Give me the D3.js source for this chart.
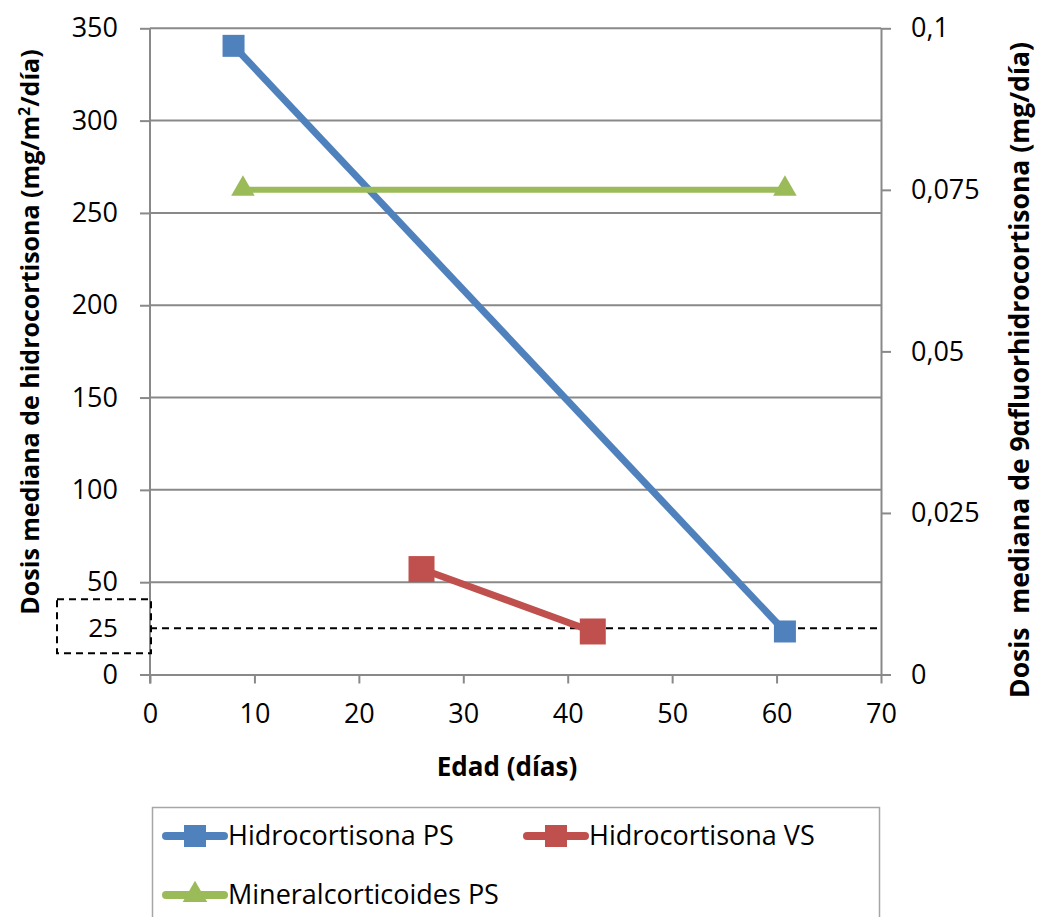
<!DOCTYPE html>
<html>
<head>
<meta charset="utf-8">
<script src="https://cdn.jsdelivr.net/npm/d3@7"></script>
<style>
  html, body { margin: 0; padding: 0; background: #fff; }
  svg { display: block; font-family: "Open Sans", "Noto Sans", sans-serif; }
</style>
</head>
<body>
<svg id="chart" width="1038" height="917"></svg>
<script>
// Age (days) on x, hydrocortisone dose on left axis, fludrocortisone on right axis
const xTicks = [0, 10, 20, 30, 40, 50, 60, 70];
const leftTicks = [0, 50, 100, 150, 200, 250, 300, 350];
const rightTicks = [0, 0.025, 0.05, 0.075, 0.1];
const rightTickLabels = ["0", "0,025", "0,05", "0,075", "0,1"];

const seriesNames = ["Hidrocortisona PS", "Hidrocortisona VS", "Mineralcorticoides PS"];
const seriesColors = ["#4F81BD", "#C0504D", "#9BBB59"];

const hcPSAge = [8, 60.8];
const hcPSDose = [340.5, 23.3];
const hcVSAge = [26, 42.4];
const hcVSDose = [57.1, 23.3];
const minPSAge = [8.9, 60.8];
const minPSDose = [0.075, 0.075];

const refValue = 25;
const refLabel = "25";

const svg = d3.select("#chart");

const x = d3.scaleLinear().domain([0, 70]).range([150, 881]);
const yL = d3.scaleLinear().domain([0, 350]).range([674.5, 28.3]);
const yR = d3.scaleLinear().domain([0, 0.1]).range([674.5, 28.3]);

const gridColor = "#898989";

// horizontal gridlines (left axis)
svg.append("g")
  .selectAll("line")
  .data(leftTicks.filter(d => d > 0))
  .join("line")
  .attr("x1", x(0)).attr("x2", x(70))
  .attr("y1", d => yL(d)).attr("y2", d => yL(d))
  .attr("stroke", gridColor).attr("stroke-width", 2);

// left axis
const gLeft = svg.append("g").attr("transform", `translate(${x(0)},0)`)
  .call(d3.axisLeft(yL).tickValues(leftTicks).tickSize(10).tickPadding(22).tickSizeOuter(0));
// bottom axis
const gBottom = svg.append("g").attr("transform", `translate(0,${yL(0)})`)
  .call(d3.axisBottom(x).tickValues(xTicks).tickSize(9).tickPadding(20).tickSizeOuter(0));
// right axis
const gRight = svg.append("g").attr("transform", `translate(${x(70)},0)`)
  .call(d3.axisRight(yR).tickValues(rightTicks).tickFormat((d, i) => rightTickLabels[i])
    .tickSize(10).tickPadding(20).tickSizeOuter(0));

[gLeft, gBottom, gRight].forEach(g => {
  g.select(".domain").attr("stroke", gridColor).attr("stroke-width", 2);
  g.selectAll(".tick line").attr("stroke", gridColor).attr("stroke-width", 2);
  g.selectAll(".tick text").attr("fill", "#000").style("font-size", "27px")
    .style("font-family", "'Open Sans', sans-serif");
});
gLeft.select(".domain").attr("d", `M0,${yL(350)}V${yL(0) + 9}`);
gBottom.selectAll(".tick text").attr("dy", "0.71em");

// reference line at 25 with boxed label
svg.append("line")
  .attr("x1", x(0)).attr("x2", x(70))
  .attr("y1", yL(refValue)).attr("y2", yL(refValue))
  .attr("stroke", "#000").attr("stroke-width", 2).attr("stroke-dasharray", "7,5");
svg.append("rect")
  .attr("x", 57).attr("y", yL(refValue) - 29)
  .attr("width", x(0) + 1 - 57).attr("height", 54)
  .attr("fill", "none").attr("stroke", "#000").attr("stroke-width", 2)
  .attr("stroke-dasharray", "7,5");
svg.append("text")
  .attr("x", 103).attr("y", yL(refValue)).attr("dy", "0.35em")
  .attr("text-anchor", "middle").style("font-size", "26px").text(refLabel);

// series lines
const lineL = d3.line().x(d => x(d[0])).y(d => yL(d[1]));
const lineR = d3.line().x(d => x(d[0])).y(d => yR(d[1]));

const hcPS = hcPSAge.map((a, i) => [a, hcPSDose[i]]);
const hcVS = hcVSAge.map((a, i) => [a, hcVSDose[i]]);
const minPS = minPSAge.map((a, i) => [a, minPSDose[i]]);

svg.append("path").attr("d", lineL(hcPS)).attr("fill", "none")
  .attr("stroke", seriesColors[0]).attr("stroke-width", 7);
svg.append("path").attr("d", lineL(hcVS)).attr("fill", "none")
  .attr("stroke", seriesColors[1]).attr("stroke-width", 7);
svg.append("path").attr("d", lineR(minPS)).attr("fill", "none")
  .attr("stroke", seriesColors[2]).attr("stroke-width", 6);

// markers
const sq = d3.symbol().type(d3.symbolSquare);
const tri = d3.symbol().type(d3.symbolTriangle);
svg.append("g").selectAll("path").data(hcPS).join("path")
  .attr("transform", d => `translate(${x(d[0])},${yL(d[1])})`)
  .attr("d", sq.size(22 * 22)()).attr("fill", seriesColors[0]);
svg.append("g").selectAll("path").data(hcVS).join("path")
  .attr("transform", d => `translate(${x(d[0])},${yL(d[1])})`)
  .attr("d", sq.size(26 * 26)()).attr("fill", seriesColors[1]);
svg.append("g").selectAll("path").data(minPS).join("path")
  .attr("transform", d => `translate(${x(d[0])},${yR(d[1]) - 1})`)
  .attr("d", tri.size(240)()).attr("fill", seriesColors[2]);

// axis titles
svg.append("text")
  .attr("transform", "translate(39,332) rotate(-90)")
  .attr("text-anchor", "middle").style("font-size", "25px").style("font-weight", "bold")
  .html('Dosis mediana de hidrocortisona (mg/m<tspan dy="-9" font-size="16">2</tspan><tspan dy="9">/día)</tspan>');
svg.append("text")
  .attr("transform", "translate(1029,370) rotate(-90)")
  .attr("text-anchor", "middle").style("font-size", "26.5px").style("font-weight", "bold")
  .attr("xml:space", "preserve")
  .text("Dosis\u00a0 mediana de 9αfluorhidrocortisona (mg/día)");
svg.append("text")
  .attr("x", 507).attr("y", 776)
  .attr("text-anchor", "middle").style("font-size", "26px").style("font-weight", "bold")
  .text("Edad (días)");

// legend
svg.append("rect")
  .attr("x", 152.5).attr("y", 807.5).attr("width", 727).attr("height", 130)
  .attr("fill", "#fff").attr("stroke", "#a6a6a6").attr("stroke-width", 1.5);

const legendItems = [
  { name: seriesNames[0], color: seriesColors[0], shape: "square", lx: 166, cy: 836 },
  { name: seriesNames[1], color: seriesColors[1], shape: "square", lx: 527, cy: 836 },
  { name: seriesNames[2], color: seriesColors[2], shape: "triangle", lx: 166, cy: 895 }
];
const lg = svg.append("g").selectAll("g").data(legendItems).join("g")
  .attr("transform", d => `translate(${d.lx},${d.cy})`);
lg.append("line").attr("x1", 0).attr("x2", 58).attr("y1", 0).attr("y2", 0)
  .attr("stroke", d => d.color).attr("stroke-width", 8).attr("stroke-linecap", "round");
lg.append("path")
  .attr("transform", "translate(29,0)")
  .attr("d", d => d.shape === "square" ? sq.size(22 * 22)() : tri.size(260)())
  .attr("fill", d => d.color);
lg.append("text").attr("x", 62).attr("y", 0).attr("dy", "0.35em")
  .style("font-size", "27px").text(d => d.name);
</script>
</body>
</html>
